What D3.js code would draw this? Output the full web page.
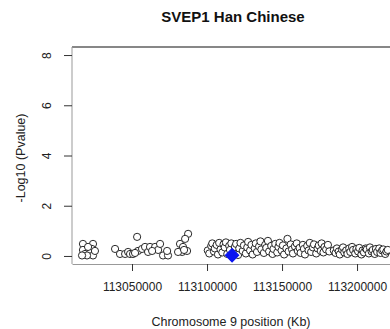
<!DOCTYPE html>
<html>
<head>
<meta charset="utf-8">
<script src="https://cdn.jsdelivr.net/npm/d3@7"></script>
<style>
  body { margin: 0; background: #fff; }
  svg { font-family: "Liberation Sans", Arial, sans-serif; }
</style>
</head>
<body>
<div class="chart"></div>
<script>
var w = 390;
var h = 329;
var paddingTop = 47;
var paddingBottom = 65;   // box bottom at 264
var paddingLeft = 72;
var plotRight = 398;      // right border falls just outside the picture

var title = "SVEP1 Han Chinese";
var xLabel = "Chromosome 9 position (Kb)";
var yLabel = "-Log10 (Pvalue)";
var xTicks = [113050000, 113100000, 113150000, 113200000];
var yTicks = [0, 2, 4, 6, 8];

// SNP positions (bp) and -log10 p values
var position = [
  113017300, 113024000, 113017300, 113023300, 113018700, 113022000, 113024000, 113020000, 113016700, 113025300, 113020700,
  113038700, 113042000, 113045400, 113047400, 113048700, 113050700, 113053400, 113054000, 113056700, 113058700,
  113060700, 113062000, 113065400, 113067400, 113068700, 113070700, 113074000, 113073400, 113052000, 113063400,
  113082000, 113087400, 113085400, 113084000, 113083400, 113086700, 113080700, 113084700,
  113100500, 113101500, 113102800, 113103500, 113104600, 113105200, 113106400, 113107300, 113108100, 113109000,
  113110200, 113111000, 113111800, 113112600, 113113500, 113114800, 113115300, 113116200, 113117900, 113118600,
  113119400, 113120700, 113121500, 113122300, 113123800, 113124600, 113125900, 113126800, 113127400, 113128700,
  113129600, 113130400, 113131800, 113132500, 113133300, 113134700, 113135600, 113136200, 113137900, 113138800,
  113139500, 113140600, 113141400, 113142800, 113143700, 113144300, 113145500, 113146800, 113147600, 113148300,
  113149700, 113150600, 113151400, 113152900, 113153600, 113154400, 113155800, 113156700, 113157300, 113158600,
  113159800, 113160500, 113161700, 113162400, 113163900, 113164600, 113165300, 113166800, 113167700, 113168500,
  113169400, 113170600, 113171300, 113172800, 113173700, 113174500, 113175800, 113176400, 113177600, 113178300,
  113179400, 113180600, 113181500,
  113184500, 113185700, 113186600, 113187800, 113188500, 113189900, 113190700, 113191500, 113192800, 113193600,
  113194800, 113195500, 113196700, 113197400, 113198800, 113199600, 113200700, 113201500, 113202900, 113203700,
  113204600, 113205800, 113206500, 113207900, 113208600, 113209700, 113210500, 113211800, 113212600, 113213400,
  113214800, 113215600, 113216700, 113217500, 113218800, 113219600, 113220500
];
var logp = [
  0.48, 0.48, 0.24, 0.28, 0.08, 0.12, 0.02, 0.02, 0.02, 0.20, 0.36,
  0.28, 0.08, 0.08, 0.16, 0.08, 0.08, 0.76, 0.20, 0.28, 0.36,
  0.16, 0.36, 0.36, 0.24, 0.48, 0.02, 0.02, 0.20, 0.12, 0.20,
  0.48, 0.88, 0.68, 0.36, 0.16, 0.20, 0.16, 0.24,
  0.22, 0.10, 0.40, 0.50, 0.18, 0.30, 0.44, 0.06, 0.52, 0.26,
  0.14, 0.46, 0.34, 0.54, 0.08, 0.40, 0.24, 0.50, 0.12, 0.36,
  0.48, 0.04, 0.30, 0.52, 0.20, 0.42, 0.10, 0.34, 0.56, 0.22,
  0.44, 0.06, 0.30, 0.50, 0.16, 0.38, 0.58, 0.26, 0.12, 0.44,
  0.32, 0.60, 0.18, 0.40, 0.08, 0.28, 0.48, 0.14, 0.36, 0.52,
  0.22, 0.42, 0.06, 0.30, 0.68, 0.18, 0.46, 0.26, 0.10, 0.38,
  0.50, 0.20, 0.32, 0.12, 0.44, 0.28, 0.06, 0.40, 0.22, 0.52,
  0.16, 0.34, 0.46, 0.10, 0.30, 0.42, 0.20, 0.50, 0.14, 0.36,
  0.26, 0.44, 0.18,
  0.22, 0.12, 0.30, 0.18, 0.06, 0.26, 0.34, 0.14, 0.22, 0.08,
  0.30, 0.16, 0.36, 0.24, 0.10, 0.28, 0.18, 0.32, 0.06, 0.22,
  0.14, 0.30, 0.26, 0.10, 0.34, 0.18, 0.24, 0.08, 0.28, 0.16,
  0.30, 0.12, 0.22, 0.26, 0.08, 0.18, 0.24
];
// lead SNP (blue diamond)
var leadPosition = [113116700];
var leadLogp = [0.03];

var data = position.map(function(d, i) { return {pos: d, p: logp[i]}; });
var lead = leadPosition.map(function(d, i) { return {pos: d, p: leadLogp[i]}; });

var xScale = d3.scaleLinear()
               .domain([113010000, 113227300])
               .range([paddingLeft, plotRight]);

var yScale = d3.scaleLinear()
               .domain([-0.32, 8.32])
               .range([h - paddingBottom, paddingTop]);

var svg = d3.select(".chart").append("svg")
            .attr("width", w)
            .attr("height", h);

svg.append("defs").append("clipPath")
   .attr("id", "plotClip")
   .append("rect")
   .attr("x", paddingLeft)
   .attr("y", paddingTop)
   .attr("width", plotRight - paddingLeft)
   .attr("height", h - paddingBottom - paddingTop);

// title
svg.append("text")
   .attr("x", 233)
   .attr("y", 22)
   .attr("text-anchor", "middle")
   .style("font-size", "15px")
   .style("font-weight", "bold")
   .style("fill", "#111")
   .text(title);

// points
var plot = svg.append("g").attr("clip-path", "url(#plotClip)");

plot.selectAll("circle.snp")
    .data(data)
    .enter()
    .append("circle")
    .attr("class", "snp")
    .attr("cx", function(d) { return xScale(d.pos); })
    .attr("cy", function(d) { return yScale(d.p); })
    .attr("r", 3.6)
    .style("fill", "#fff")
    .style("stroke", "#111")
    .style("stroke-width", 0.9);

plot.selectAll("path.lead")
    .data(lead)
    .enter()
    .append("path")
    .attr("class", "lead")
    .attr("d", d3.symbol().type(d3.symbolSquare).size(90))
    .attr("transform", function(d) {
      return "translate(" + xScale(d.pos) + "," + yScale(d.p) + ") rotate(45)";
    })
    .style("fill", "#0a14f0")
    .style("stroke", "#0a14f0");

// box
svg.append("line")
   .attr("x1", paddingLeft).attr("x2", plotRight)
   .attr("y1", paddingTop).attr("y2", paddingTop)
   .style("stroke", "#111").style("stroke-width", 1.2);
svg.append("line")
   .attr("x1", plotRight).attr("x2", plotRight)
   .attr("y1", paddingTop).attr("y2", h - paddingBottom)
   .style("stroke", "#111").style("stroke-width", 1.2);

// axes
var xAxis = d3.axisBottom(xScale)
              .tickValues(xTicks)
              .tickSize(7)
              .tickSizeOuter(0)
              .tickPadding(11)
              .tickFormat(function(d) { return d3.format("d")(d); });

var yAxis = d3.axisLeft(yScale)
              .tickValues(yTicks)
              .tickSize(8)
              .tickSizeOuter(0)
              .tickFormat(d3.format("d"));

var gx = svg.append("g")
            .attr("class", "xAxis")
            .attr("transform", "translate(0," + (h - paddingBottom) + ")")
            .call(xAxis);
gx.select(".domain").style("stroke", "#999");
gx.selectAll(".tick line").style("stroke", "#333");
gx.selectAll(".tick text")
  .style("font-size", "12px")
  .style("fill", "#222")
  .style("font-family", "Liberation Sans, Arial, sans-serif");

var gy = svg.append("g")
            .attr("class", "yAxis")
            .attr("transform", "translate(" + paddingLeft + ",0)")
            .call(yAxis);
gy.select(".domain").style("stroke", "#999")
  .attr("d", "M0," + paddingTop + "V" + (h - paddingBottom));
gy.selectAll(".tick line").style("stroke", "#333");
gy.selectAll(".tick text")
  .attr("x", 0)
  .attr("dy", null)
  .attr("text-anchor", "middle")
  .attr("dominant-baseline", "middle")
  .attr("transform", "translate(-24,0) rotate(-90)")
  .style("font-size", "12px")
  .style("fill", "#222")
  .style("font-family", "Liberation Sans, Arial, sans-serif");

// axis titles
svg.append("text")
   .attr("text-anchor", "middle")
   .attr("transform", "translate(25,158) rotate(-90)")
   .style("font-size", "12.5px")
   .style("fill", "#222")
   .text(yLabel);

svg.append("text")
   .attr("x", 231)
   .attr("y", 326)
   .attr("text-anchor", "middle")
   .style("font-size", "12.5px")
   .style("fill", "#222")
   .text(xLabel);
</script>
</body>
</html>
